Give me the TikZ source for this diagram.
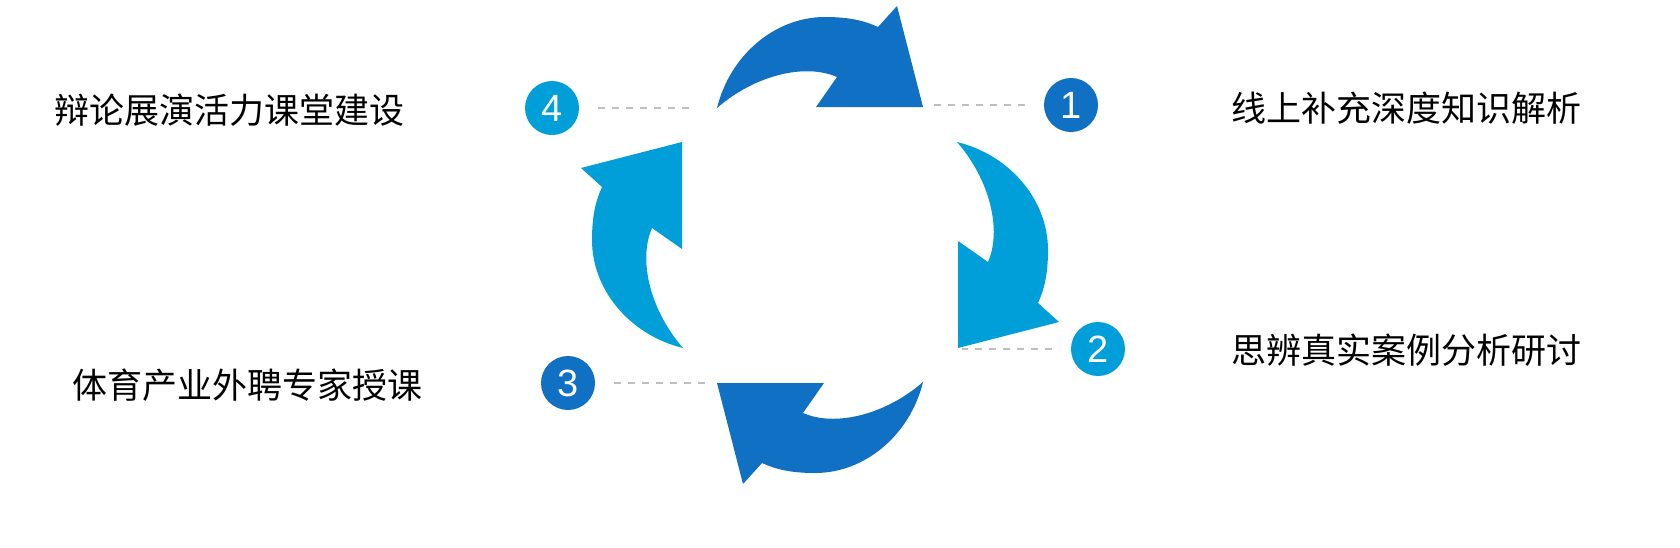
\documentclass[tikz,border=0pt]{standalone}
\usepackage{fontspec}
\setmainfont{Liberation Sans}
\newfontfamily\cjk{Noto Sans CJK SC}
\definecolor{cycdark}{HTML}{1070C4}
\definecolor{cyclight}{HTML}{009FD9}
\definecolor{guidegray}{HTML}{BFBFBF}

\begin{document}
\begin{tikzpicture}[
  x=0.5pt, y=-0.5pt,
  num/.style={circle, minimum size=27pt, inner sep=0pt, outer sep=9.5pt, text=white, font=\fontsize{19}{19}\selectfont},
  topic/.style={anchor=west, inner sep=0pt, font=\cjk\fontsize{17.5}{20}\selectfont},
  guide/.style={draw=guidegray, line width=1pt, dash pattern=on 3.5pt off 3.5pt},
]
\useasboundingbox[fill=white] (0,0) rectangle (1680,547);

\foreach \ang/\col in {0/cycdark, -90/cyclight, -180/cycdark, -270/cyclight}
  \fill[\col, shift={(820,245)}, rotate=\ang]
    (-103,-137) .. controls (-90,-190) and (-45,-228) .. (5,-228)
    .. controls (30,-228) and (45,-224) .. (58,-218)
    -- (77,-239) -- (103,-138) -- (-4,-138) -- (17,-168)
    .. controls (-15,-182) and (-65,-170) .. (-103,-137) -- cycle;

\node[num, fill=cycdark] (c1) at (1071,105) {1};
\node[num, fill=cyclight] (c2) at (1098,349) {2};
\node[num, fill=cycdark] (c3) at (568,383) {3};
\node[num, fill=cyclight] (c4) at (552,108) {4};

\coordinate (g1) at (933,105);
\coordinate (g2) at (962,349);
\coordinate (g3) at (707,383);
\coordinate (g4) at (692,108);
\draw[guide] (c1) -- (g1);
\draw[guide] (c2) -- (g2);
\draw[guide] (c3) -- (g3);
\draw[guide] (c4) -- (g4);

\node[topic] (t1) at (1231,108) {线上补充深度知识解析};
\node[topic] (t2) at (1231,350) {思辨真实案例分析研讨};
\node[topic] (t3) at (72,385) {体育产业外聘专家授课};
\node[topic] (t4) at (54,110) {辩论展演活力课堂建设};
\end{tikzpicture}
\end{document}
